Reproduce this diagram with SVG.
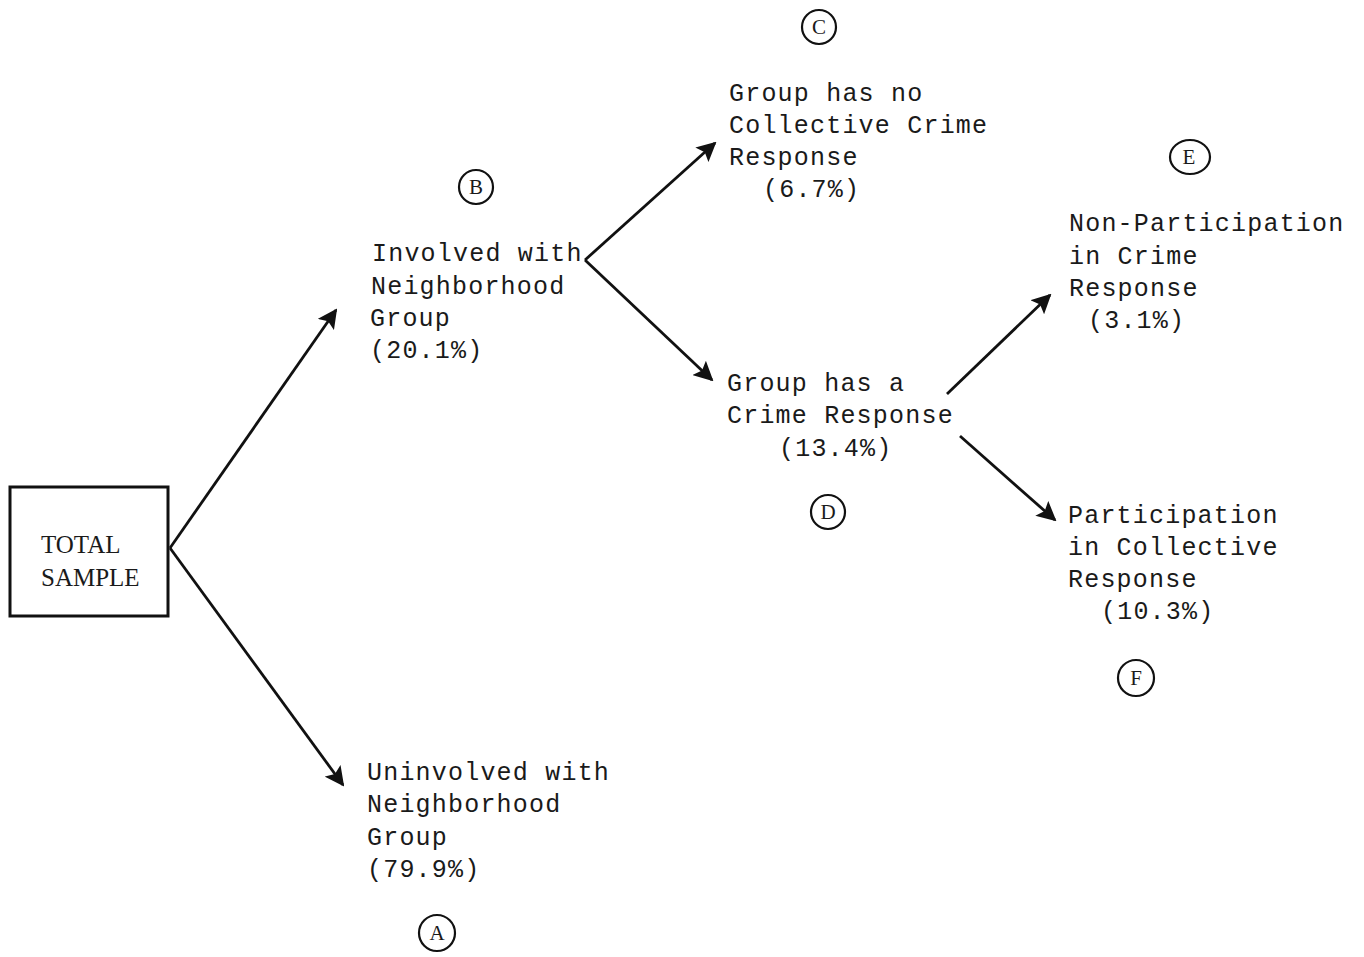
<svg xmlns="http://www.w3.org/2000/svg" width="1364" height="957" viewBox="0 0 1364 957">
<defs>
<marker id="ah" viewBox="0 0 10 10" refX="9" refY="5" markerWidth="7" markerHeight="7" orient="auto" markerUnits="strokeWidth">
<path d="M0,0 L10,5 L0,10 L2,5 Z" fill="#111"/>
</marker>
<style>
text{font-family:"Liberation Mono","Courier New",monospace;font-size:25px;fill:#1a1a1a;letter-spacing:1.2px}
.c{fill:none;stroke:#111;stroke-width:2.2}
.cl{font-family:"Liberation Serif","Times New Roman",serif;font-size:21px;text-anchor:middle;letter-spacing:0}
.t{font-family:"Liberation Serif","Times New Roman",serif;font-size:25px;letter-spacing:0}
.e{fill:none;stroke:#111;stroke-width:2.8}
.box{fill:#fff;stroke:#111;stroke-width:3}
</style>
</defs>
<rect width="1364" height="957" fill="#fff"/>
<g id="connectors">
<line class="e" x1="170" y1="548" x2="336" y2="310" marker-end="url(#ah)"/>
<line class="e" x1="170" y1="548" x2="343" y2="785" marker-end="url(#ah)"/>
<line class="e" x1="585" y1="260" x2="715" y2="143" marker-end="url(#ah)"/>
<line class="e" x1="585" y1="260" x2="712" y2="380" marker-end="url(#ah)"/>
<line class="e" x1="947" y1="394" x2="1050" y2="295" marker-end="url(#ah)"/>
<line class="e" x1="960" y1="436" x2="1055" y2="520" marker-end="url(#ah)"/>
</g>
<g id="total">
<rect class="box" x="10" y="487" width="158" height="129"/>
<text class="t" x="41" y="553">TOTAL</text>
<text class="t" x="41" y="586">SAMPLE</text>
</g>
<g id="nodeB">
<circle class="c" cx="476" cy="187" r="17"/>
<text class="cl" x="476" y="194">B</text>
<text x="372" y="261">Involved with</text>
<text x="371" y="294">Neighborhood</text>
<text x="370" y="326">Group</text>
<text x="370" y="358">(20.1%)</text>
</g>
<g id="nodeA">
<text x="367" y="780">Uninvolved with</text>
<text x="367" y="812">Neighborhood</text>
<text x="367" y="845">Group</text>
<text x="367" y="877">(79.9%)</text>
<circle class="c" cx="437" cy="933" r="18"/>
<text class="cl" x="437" y="940">A</text>
</g>
<g id="nodeC">
<circle class="c" cx="819" cy="27" r="17"/>
<text class="cl" x="819" y="34">C</text>
<text x="729" y="101">Group has no</text>
<text x="729" y="133">Collective Crime</text>
<text x="729" y="165">Response</text>
<text x="763" y="197">(6.7%)</text>
</g>
<g id="nodeD">
<text x="727" y="391">Group has a</text>
<text x="727" y="423">Crime Response</text>
<text x="779" y="456">(13.4%)</text>
<circle class="c" cx="828" cy="512" r="17"/>
<text class="cl" x="828" y="519">D</text>
</g>
<g id="nodeE">
<ellipse class="c" cx="1190" cy="157" rx="20" ry="17"/>
<text class="cl" x="1189" y="164">E</text>
<text x="1069" y="231">Non-Participation</text>
<text x="1069" y="264">in Crime</text>
<text x="1069" y="296">Response</text>
<text x="1088" y="328">(3.1%)</text>
</g>
<g id="nodeF">
<text x="1068" y="523">Participation</text>
<text x="1068" y="555">in Collective</text>
<text x="1068" y="587">Response</text>
<text x="1101" y="619">(10.3%)</text>
<circle class="c" cx="1136" cy="678" r="18"/>
<text class="cl" x="1136" y="685">F</text>
</g>
</svg>
